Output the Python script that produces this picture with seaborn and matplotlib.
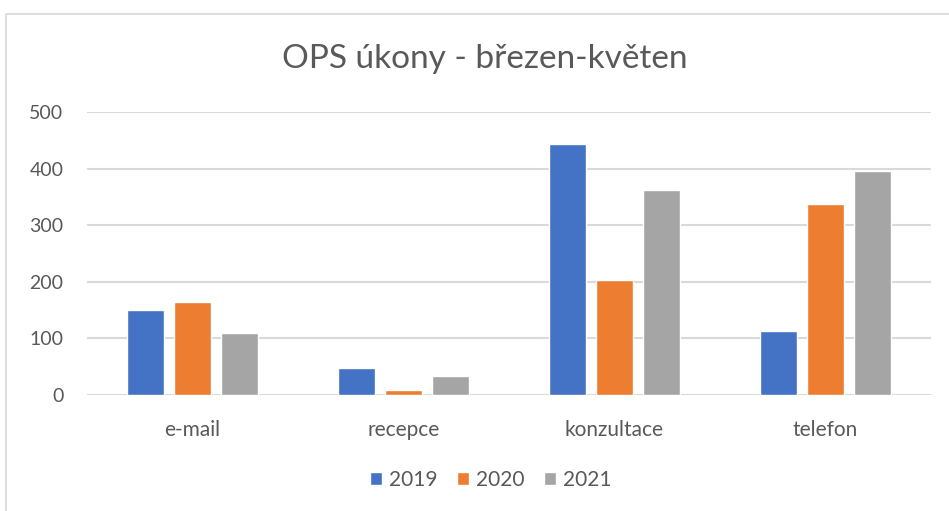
#! /usr/bin/env python3
'''
OPS ukony - grouped bar chart, brezen-kveten
'''

# imports
from matplotlib.patches import Rectangle
import matplotlib.pyplot as plt
import pandas as pd
import seaborn as sns

# data
CATEGORIES = ['e-mail', 'recepce', 'konzultace', 'telefon']
YEARS = ['2019', '2020', '2021']
VALUES_2019 = [150, 48, 444, 113]
VALUES_2020 = [165, 9, 203, 338]
VALUES_2021 = [110, 34, 363, 396]
Y_TICKS = [0, 100, 200, 300, 400, 500]

# style
COLORS = ['#4472C4', '#ED7D31', '#A5A5A5']
TEXT = '#595959'
GRID = '#D9D9D9'

sns.set_style('white')
plt.rcParams['font.family'] = ['Lato', 'DejaVu Sans']

df = pd.DataFrame({
    'kategorie': CATEGORIES * 3,
    'rok': [y for y in YEARS for _ in CATEGORIES],
    'pocet': VALUES_2019 + VALUES_2020 + VALUES_2021,
})

fig = plt.figure(figsize=(9.49, 5.11), dpi=100)
ax = fig.add_axes([87 / 949, 1 - 395 / 511, (931 - 87) / 949, (395 - 112) / 511])

sns.barplot(data=df, x='kategorie', y='pocet', hue='rok', palette=COLORS,
            width=0.67, gap=0.21, ax=ax, legend=True, saturation=1, zorder=3)

ax.set_ylim(0, 500)
ax.set_yticks(Y_TICKS)
ax.set_xlabel('')
ax.set_ylabel('')
ax.grid(axis='y', color=GRID, linewidth=1.5, zorder=0)
ax.set_axisbelow(True)
for s in ax.spines.values():
    s.set_visible(False)
ax.tick_params(axis='y', length=0, pad=17, labelsize=14, labelcolor=TEXT)
ax.tick_params(axis='x', length=0, pad=18, labelsize=15, labelcolor=TEXT)

# legend at the bottom
handles, labels = ax.get_legend_handles_labels()
ax.get_legend().remove()
leg = fig.legend(handles, labels, loc='center', bbox_to_anchor=(491 / 949, 1 - 480 / 511),
                 ncol=3, frameon=False, fontsize=15, handlelength=0.55, handleheight=0.55,
                 handletextpad=0.35, columnspacing=0.95)
for t in leg.get_texts():
    t.set_color(TEXT)

fig.suptitle('OPS úkony - březen-květen', x=485 / 949, y=1 - 59 / 511, va='center',
             fontsize=24, color=TEXT, fontweight='normal')

# chart border
fig.patches.append(Rectangle((6 / 949, -0.1), 1.2, 1 - 14 / 511 + 0.1, transform=fig.transFigure,
                             fill=False, edgecolor=GRID, linewidth=1.2))

fig.savefig('out.png', dpi=100)
